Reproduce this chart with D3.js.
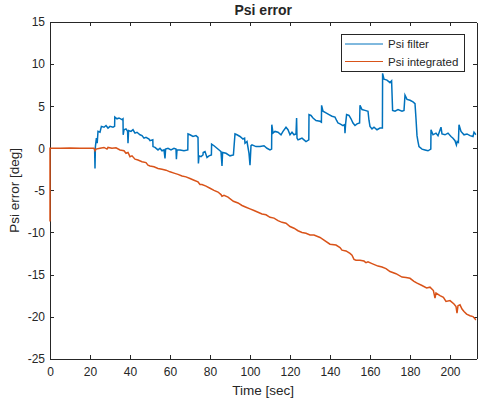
<!DOCTYPE html>
<html>
<head>
<meta charset="utf-8">
<script src="https://d3js.org/d3.v7.min.js"></script>
<style>
  body { margin: 0; background: #fff; }
  svg text { font-family: "Liberation Sans", Arial, sans-serif; fill: #262626; }
  .axis path, .axis line { stroke: #262626; stroke-width: 1; shape-rendering: crispEdges; }
  .axis text { font-size: 12px; }
</style>
</head>
<body>
<script>
// data: [time sec, error deg]
var psiFilter = [
  [22.3, 0], [22.5, -2.4], [22.7, 0.2], [23.2, 1.2], [23.6, 0.6], [24.0, 2.0], [25.0, 1.9], [25.7, 2.6],
  [27, 2.5], [28, 2.7], [29, 2.4], [30, 2.6], [31.5, 2.5], [32.3, 2.6], [32.4, 3.7], [33.5, 3.5],
  [34.5, 3.6], [36, 3.4], [36.5, 3.5], [36.6, 1.6], [37, 2.2], [38, 2.3], [38.8, 2.0], [39, 0.6],
  [39.3, 2.1], [40.5, 2.0], [41.5, 2.2], [42.5, 1.8], [43.5, 1.9], [45, 1.6], [46, 1.5], [47, 1.2],
  [48, 1.3], [49.5, 1.1], [50, 0.9], [51.4, 1.0], [51.5, 0.2], [52.5, 0.1], [54, -0.2], [55, 0.0],
  [56, -0.3], [57, -0.2], [57.5, -1.2], [57.8, -0.1], [59, 0.0], [60.5, -0.2], [62, 0.0], [63, -0.1],
  [63.2, -1.3], [63.5, -0.2], [65, -0.2], [67, -0.3], [68.9, -0.2], [69, 1.7], [70, 1.6], [71.5, 1.4],
  [73, 1.5], [74, 1.3], [74.2, -1.8], [74.5, -0.9], [75.5, -1.0], [76.5, -0.8], [76.6, -0.5], [77.5, -0.4],
  [78.5, -1.1], [79.5, -0.9], [80.7, -0.8], [80.8, 0.5], [82, 0.3], [83.5, 0.0], [85, -0.3], [85.5, -0.4],
  [86, -2.1], [86.3, -0.5], [88, -0.6], [90, -0.9], [91.7, -0.8], [92.5, 1.7], [93.5, 1.6], [95, 1.4],
  [96.5, 1.1], [97.3, 1.2], [97.5, 0.6], [98.5, 0.8], [99.5, -0.6], [100, -2.0], [100.5, 0.3], [101, 0.4],
  [103, 0.2], [105, 0.2], [107, 0.3], [108.5, 0.0], [110, -0.2], [110.8, -0.1], [110.9, 2.8], [111.5, 1.8],
  [112.5, 2.0], [114, 1.9], [115.5, 1.6], [116.5, 2.0], [118, 2.5], [119, 2.2], [120, 1.6], [121, 1.9],
  [122, 1.6], [123, 1.7], [123.3, 3.6], [123.5, 1.2], [124, 1.0], [125, 1.1], [126, 1.2], [127, 1.0],
  [128, 0.8], [129.4, 1.0], [129.5, 4.0], [130.5, 3.9], [131.5, 3.6], [133, 3.3], [135, 3.2], [135.7, 3.1],
  [135.8, 5.1], [136.5, 4.4], [138, 4.2], [139.5, 4.0], [141, 3.8], [142.5, 3.7], [143.3, 3.3], [144, 3.0],
  [145, 2.9], [146.5, 2.7], [147.3, 2.8], [147.5, 1.8], [147.8, 2.9], [148.3, 4.0], [149.5, 3.9], [150.5, 3.5],
  [151.5, 3.0], [152.5, 2.7], [153.5, 2.9], [154.8, 3.0], [155, 5.1], [156, 4.6], [157.5, 4.5], [159, 4.4],
  [159.5, 3.3], [160, 2.6], [161, 2.3], [162, 2.5], [163.5, 2.2], [165, 2.4], [166.2, 2.4], [166.3, 8.9],
  [167, 8.2], [168.5, 8.1], [170, 7.8], [170.8, 8.0], [171.3, 4.5], [172.5, 4.4], [174, 4.6], [176, 4.4],
  [177, 4.5], [177.5, 6.3], [178.5, 5.8], [180, 5.7], [181.5, 5.5], [182.5, 5.3], [183, 3.5], [183.5, 1.5],
  [184, 0.8], [184.5, 0.2], [186, -0.1], [187.5, -0.2], [189, -0.3], [190.4, -0.1], [190.5, 2.2], [191.5, 1.6],
  [193, 1.8], [194, 1.5], [195.5, 2.5], [196, 1.7], [197.5, 1.6], [199, 1.8], [200.5, 1.4], [201.5, 1.2],
  [202.5, 0.9], [203.2, 0.4], [203.6, 0.8], [204.2, 0.7], [204.5, 2.8], [205.5, 2.0], [207, 1.6], [208.5, 1.7],
  [210, 1.5], [211.5, 1.4], [212, 1.9], [213, 1.6]
];

var psiIntegrated = [
  [0, -8.7], [0, 0], [5, 0], [10, 0.02], [15, 0], [20, 0], [22, 0], [22.5, -0.3], [23, -0.1], [25, 0.0],
  [27, 0.1], [28.5, -0.1], [29, 0.1], [31, 0.0], [33, 0.05], [35, -0.2], [37, -0.3], [38, -0.6], [39, -0.5],
  [40, -1.0], [41, -0.9], [42.5, -1.3], [44, -1.4], [46, -1.6], [48, -1.7], [49, -2.0], [50, -2.1], [52, -2.2],
  [54, -2.4], [56, -2.5], [58, -2.6], [60, -2.8], [62, -2.95], [64, -3.1], [66, -3.3], [68, -3.4], [70, -3.6],
  [72, -3.8], [74, -4.0], [75, -4.3], [76, -4.3], [78, -4.5], [80, -4.75], [82, -5.0], [84, -5.2], [85.5, -5.5],
  [86, -5.7], [87, -5.6], [89, -5.8], [91.7, -6.3], [94, -6.5], [96, -6.8], [98, -7.0], [100, -7.2], [102, -7.4],
  [104, -7.6], [106, -7.8], [108, -7.9], [110, -8.2], [112, -8.3], [114, -8.6], [116, -8.8], [118, -8.9],
  [120, -9.3], [122, -9.5], [124, -9.8], [126, -10.0], [128, -10.1], [130, -10.3], [132, -10.3], [135, -10.6],
  [137, -10.9], [140, -11.4], [143, -11.5], [145, -11.8], [146, -12.1], [148, -12.2], [150, -12.5], [151, -12.7],
  [152, -13.2], [153, -13.3], [155, -13.3], [157, -13.4], [158, -13.6], [159, -13.5], [161, -13.7], [164, -14.0],
  [166, -14.1], [168, -14.3], [170, -14.65], [173, -14.9], [176, -15.3], [178, -15.35], [180, -15.45], [182, -15.8],
  [183.3, -16.0], [186, -16.3], [188.3, -16.6], [190, -16.5], [191.7, -16.9], [192.5, -17.8], [193, -17.2],
  [195, -17.5], [196.7, -17.7], [198, -18.2], [200, -18.1], [202, -18.5], [203, -18.8], [203.5, -19.6], [204, -18.7],
  [205, -18.6], [206, -19.1], [207, -19.4], [208.3, -19.7], [210, -19.9], [211.5, -20.0], [213, -20.4]
];

var xTicks = [0, 20, 40, 60, 80, 100, 120, 140, 160, 180, 200];
var yTicks = [-25, -20, -15, -10, -5, 0, 5, 10, 15];
var seriesNames = ["Psi filter", "Psi integrated"];
var seriesColors = ["#0072BD", "#D95319"];

var svgWidth = 479, svgHeight = 404;
var margin = { top: 22, right: 2.5, bottom: 45.3, left: 50 };
var width = svgWidth - margin.left - margin.right;
var height = svgHeight - margin.top - margin.bottom;

var svg = d3.select("body").append("svg")
  .attr("width", svgWidth)
  .attr("height", svgHeight);

var g = svg.append("g")
  .attr("transform", "translate(" + margin.left + "," + margin.top + ")");

var x = d3.scaleLinear().domain([0, 213.25]).range([0, width]);
var y = d3.scaleLinear().domain([-25, 15]).range([height, 0]);

g.append("defs").append("clipPath").attr("id", "clip")
  .append("rect").attr("x", -1).attr("width", width + 1).attr("height", height);

var fmt = function (d) { return String(d); };  // plain hyphen minus like matlab

// axes, ticks pointing inward like matlab, box on
g.append("g").attr("class", "axis")
  .attr("transform", "translate(0," + height + ")")
  .call(d3.axisBottom(x).tickValues(xTicks).tickSize(-4).tickSizeOuter(0).tickPadding(9).tickFormat(fmt));
g.append("g").attr("class", "axis")
  .call(d3.axisTop(x).tickValues(xTicks).tickSize(-4).tickSizeOuter(0).tickFormat(""));
g.append("g").attr("class", "axis")
  .call(d3.axisLeft(y).tickValues(yTicks).tickSize(-4).tickSizeOuter(0).tickPadding(5).tickFormat(fmt));
g.append("g").attr("class", "axis")
  .attr("transform", "translate(" + width + ",0)")
  .call(d3.axisRight(y).tickValues(yTicks).tickSize(-4).tickSizeOuter(0).tickFormat(""));

var line = d3.line()
  .x(function (d) { return x(d[0]); })
  .y(function (d) { return y(d[1]); });

var plot = g.append("g").attr("clip-path", "url(#clip)");
plot.append("path").datum(psiFilter)
  .attr("fill", "none").attr("stroke", seriesColors[0]).attr("stroke-width", 1.5)
  .attr("d", line);
plot.append("path").datum(psiIntegrated)
  .attr("fill", "none").attr("stroke", seriesColors[1]).attr("stroke-width", 1.5)
  .attr("d", line);

// labels
svg.append("text")
  .attr("x", margin.left + width / 2).attr("y", 15)
  .attr("text-anchor", "middle")
  .style("font-size", "14px").style("font-weight", "bold")
  .text("Psi error");

svg.append("text")
  .attr("x", margin.left + width / 2).attr("y", 395)
  .attr("text-anchor", "middle")
  .style("font-size", "13.5px")
  .text("Time [sec]");

svg.append("text")
  .attr("transform", "translate(19," + (margin.top + height / 2) + ") rotate(-90)")
  .attr("text-anchor", "middle")
  .style("font-size", "13.5px")
  .text("Psi error [deg]");

// legend
var legend = svg.append("g").attr("transform", "translate(341,34)");
legend.append("rect")
  .attr("width", 123).attr("height", 37)
  .attr("fill", "#fff").attr("stroke", "#262626").attr("stroke-width", 1)
  .attr("shape-rendering", "crispEdges");
seriesNames.forEach(function (name, i) {
  var ly = 10 + i * 17.5;
  legend.append("line")
    .attr("x1", 4).attr("x2", 42).attr("y1", ly).attr("y2", ly)
    .attr("stroke", seriesColors[i]).attr("stroke-width", 1);
  legend.append("text")
    .attr("x", 47).attr("y", ly + 4)
    .style("font-size", "11.5px")
    .text(name);
});
</script>
</body>
</html>
